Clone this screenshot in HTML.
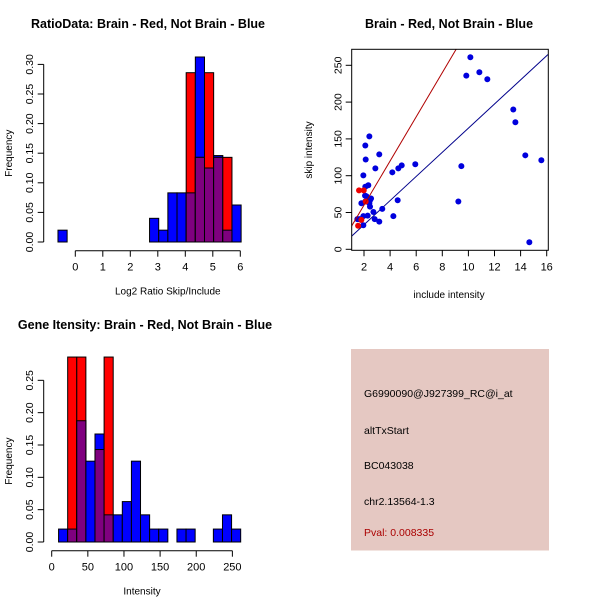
<!DOCTYPE html>
<html><head><meta charset="utf-8"><style>
body{margin:0;background:#fff}
svg{display:block;font-family:"Liberation Sans",sans-serif}
</style></head><body>
<svg id="s" width="600" height="600" viewBox="0 0 600 600">
<rect width="600" height="600" fill="#fff"/>
</svg>
<script>
// ---- Plot 1: ratio histogram ----
const ratioBinStart = -0.63;
const ratioBinWidth = 0.333;
const ratioBlue = [0.02,0,0,0,0,0,0,0,0,0,0.04,0.02,0.083,0.083,0.083,0.3125,0.125,0.146,0.02,0.0625];
const ratioRed  = [0,0,0,0,0,0,0,0,0,0,0,0,0,0,0.286,0.143,0.286,0.143,0.143,0];
const ratioXTicks = [0,1,2,3,4,5,6];
const ratioYTicks = [0,0.05,0.10,0.15,0.20,0.25,0.30];
// ---- Plot 2: scatter ----
const scatterBlueX = [2.41,2.10,2.13,3.17,1.95,2.87,4.17,4.63,4.89,5.93,2.33,2.10,2.08,2.18,2.54,2.46,2.41,1.80,2.46,2.10,2.72,2.28,1.95,1.77,1.64,1.95,1.49,2.82,3.17,3.40,4.25,4.58,9.84,10.15,10.84,11.45,13.44,13.6,14.36,15.59,9.46,9.23,14.67];
const scatterBlueY = [153.5,141,122,129,100.5,110,104.6,110,114,115.5,87,85,73,72,69,66.6,62.5,62.5,58,65,50.7,45.7,45,40,41,32.6,41,41,37.6,55,45,66.6,236,261,240.5,231,190,172.6,127.7,121,113,65,9.5];
const scatterRedX = [1.62,1.98,1.55,1.8,2.13];
const scatterRedY = [80,80,32,40,65];
const blueSlope = 16.4, blueIntercept = 0.6;
const redSlope = 30, redIntercept = 0;
const scatterXTicks = [2,4,6,8,10,12,14,16];
const scatterYTicks = [0,50,100,150,200,250];
// ---- Plot 3: intensity histogram ----
const intBinStart = 9.5;
const intBinWidth = 12.6;
const intBlue = [0.02,0.02,0.1875,0.125,0.167,0.042,0.042,0.0625,0.125,0.042,0.02,0.02,0,0.02,0.02,0,0,0.02,0.042,0.02];
const intRed  = [0,0.286,0.286,0,0.143,0.286,0,0,0,0,0,0,0,0,0,0,0,0,0,0];
const intXTicks = [0,50,100,150,200,250];
const intYTicks = [0,0.05,0.10,0.15,0.20,0.25];
// ---- Plot 4 text ----
const infoLines = ["G6990090@J927399_RC@i_at","altTxStart","BC043038","chr2.13564-1.3"];
const pvalText = "Pval: 0.008335";

const svg = document.getElementById('s');
const NS = 'http://www.w3.org/2000/svg';
function mk(tag, attrs, parent){const e=document.createElementNS(NS,tag);for(const k in attrs)e.setAttribute(k,attrs[k]);(parent||svg).appendChild(e);return e;}
function txt(x,y,s,attrs,parent){const e=mk('text',Object.assign({x:x,y:y,'font-size':11,fill:'#000'},attrs||{}),parent);e.textContent=s;return e;}
function fmt(v){return v===0?'0.00':v.toFixed(2);}

function hist(name, x0, x1, y0, y1, xs, sx, ys, sy, start, w, blue, red, xt, yt, yfmt, title, xlab){
  const g = mk('g',{});
  
  
  const X = v => x0 + (v - xs) * sx;
  const Y = v => y0 - (v - ys) * sy;
  for(let i=0;i<blue.length;i++){
    const a = start + i*w, b = a + w;
    const bv = blue[i], rv = red[i];
    if(bv>0){const r=mk('rect',{x:X(a),y:Y(bv),width:X(b)-X(a),height:Y(0)-Y(bv),fill:'#0000ff',stroke:'#000','stroke-width':1},g);
      
      }
    if(rv>0){const r=mk('rect',{x:X(a),y:Y(rv),width:X(b)-X(a),height:Y(0)-Y(rv),fill:'#ff0000',stroke:'#000','stroke-width':1},g);
      
      }
    const m = Math.min(bv,rv);
    if(m>0){const r=mk('rect',{x:X(a),y:Y(m),width:X(b)-X(a),height:Y(0)-Y(m),fill:'#7f007f',stroke:'#000','stroke-width':1},g);
      
      }
  }
  const ya = mk('g',{},g);
  
  
  mk('line',{x1:43.7,x2:43.7,y1:Y(yt[0]),y2:Y(yt[yt.length-1]),stroke:'#000'},ya);
  yt.forEach(v=>{mk('line',{x1:37.7,x2:43.7,y1:Y(v),y2:Y(v),stroke:'#000'},ya);
    txt(0,0,fmt(v),{transform:`translate(33,${Y(v)}) rotate(-90)`,'text-anchor':'middle','font-size':10.5},ya);});
  const xa = mk('g',{},g);
  
  
  mk('line',{x1:X(xt[0]),x2:X(xt[xt.length-1]),y1:y1,y2:y1,stroke:'#000'},xa);
  xt.forEach(v=>{mk('line',{x1:X(v),x2:X(v),y1:y1,y2:y1+6,stroke:'#000'},xa);
    txt(X(v),y1+20,String(v),{'text-anchor':'middle'},xa);});
  const t=txt(12,(y0+Y(yt[yt.length-1]))/2,'Frequency',{transform:`rotate(-90 12 ${(y0+Y(yt[yt.length-1]))/2})`,'text-anchor':'middle','font-size':10},g);
  
  const xl=txt(x0+(x1-x0)/2+ (name==='ratio-histogram'?10:0), y1+44, xlab, {'text-anchor':'middle','font-size':10},g);
  
  const ti=txt(title.x, title.y, title.s, {'text-anchor':'middle','font-weight':'bold','font-size':12.5},g);
  
}

hist('ratio-histogram', 75.3, 240.3, 242, 250.7, 0, 27.5, 0, 592, ratioBinStart, ratioBinWidth, ratioBlue, ratioRed, ratioXTicks, ratioYTicks, fmt,
  {x:148,y:28,s:'RatioData: Brain - Red, Not Brain - Blue'}, 'Log2 Ratio Skip/Include');
hist('intensity-histogram', 51.7, 232.3, 542, 550.7, 0, 0.7227, 0, 646.7, intBinStart, intBinWidth, intBlue, intRed, intXTicks, intYTicks, fmt,
  {x:145,y:329,s:'Gene Itensity: Brain - Red, Not Brain - Blue'}, 'Intensity');

(function(){
  const g = mk('g',{});
  
  
  const X = v => 364 + (v-2)*13.05;
  const Y = v => 249.3 - v*0.736;
  const L=351.7,R=548.3,T=49.3,B=250.3;
  const cp = mk('clipPath',{id:'cp'},g); mk('rect',{x:L,y:T,width:R-L,height:B-T},cp);
  const lg = mk('g',{'clip-path':'url(#cp)'},g);
  const xa=1.0, xb=16.1;
  const bl=mk('line',{x1:X(xa),y1:Y(blueSlope*xa+blueIntercept),x2:X(xb),y2:Y(blueSlope*xb+blueIntercept),stroke:'#00008b','stroke-width':1},lg);
  
  
  scatterBlueX.forEach((x,i)=>{const c=mk('circle',{cx:X(x),cy:Y(scatterBlueY[i]),r:3,fill:'#0000dd'},lg);
    
    });
  scatterRedX.forEach((x,i)=>{const c=mk('circle',{cx:X(x),cy:Y(scatterRedY[i]),r:3,fill:'#ee0000'},lg);
    
    });
  const rl=mk('line',{x1:X(xa),y1:Y(redSlope*xa+redIntercept),x2:X(xb),y2:Y(redSlope*xb+redIntercept),stroke:'#b00000','stroke-width':1},lg);
  
  
  mk('rect',{x:L,y:T,width:R-L,height:B-T,fill:'none',stroke:'#000'},g);
  scatterXTicks.forEach(v=>{mk('line',{x1:X(v),x2:X(v),y1:B,y2:B+6,stroke:'#000'},g);
    txt(X(v),B+20,String(v),{'text-anchor':'middle'},g);});
  scatterYTicks.forEach(v=>{mk('line',{x1:L-6,x2:L,y1:Y(v),y2:Y(v),stroke:'#000'},g);
    txt(0,0,String(v),{transform:`translate(${L-10},${Y(v)}) rotate(-90)`,'text-anchor':'middle','font-size':10.5},g);});
  const xt=txt(449,298,'include intensity',{'text-anchor':'middle','font-size':10},g);
  
  const yt=txt(0,0,'skip intensity',{transform:'translate(312,150) rotate(-90)','text-anchor':'middle','font-size':10},g);
  
  const ti=txt(449,28,'Brain - Red, Not Brain - Blue',{'text-anchor':'middle','font-weight':'bold','font-size':12.5},g);
  
})();

(function(){
  const g = mk('g',{});
  
  
  mk('rect',{x:351,y:349,width:198,height:201.5,fill:'#e5c8c2'},g);
  const ys=[397,434,469,505];
  infoLines.forEach((s,i)=>{const t=txt(364,ys[i],s,{'font-size':10.5},g);
    });
  const p=txt(364,536,pvalText,{'font-size':10.5,fill:'#aa0000'},g);
  
})();
</script>
</body></html>
